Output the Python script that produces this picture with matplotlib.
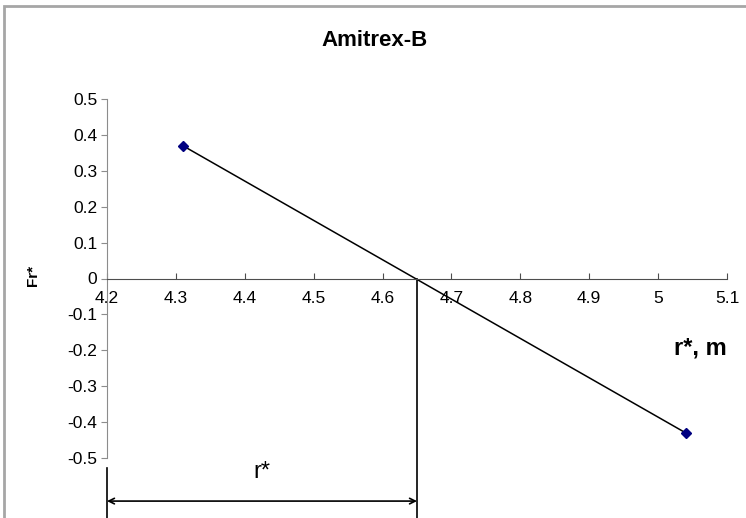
import matplotlib
matplotlib.use("Agg")
import matplotlib.pyplot as plt
from matplotlib.patches import Rectangle

plt.rcParams["font.family"] = ["Liberation Sans", "DejaVu Sans"]

# data
r_values = [4.31, 5.04]
fr_values = [0.37, -0.43]
r_star = 4.65
x_ticks = [4.2, 4.3, 4.4, 4.5, 4.6, 4.7, 4.8, 4.9, 5.0, 5.1]
x_tick_labels = ["4.2", "4.3", "4.4", "4.5", "4.6", "4.7", "4.8", "4.9", "5", "5.1"]
y_ticks = [0.5, 0.4, 0.3, 0.2, 0.1, 0.0, -0.1, -0.2, -0.3, -0.4, -0.5]
y_tick_labels = ["0.5", "0.4", "0.3", "0.2", "0.1", "0", "-0.1", "-0.2", "-0.3", "-0.4", "-0.5"]

W, H = 746, 518
fig = plt.figure(figsize=(W / 100, H / 100), dpi=100)
ax = fig.add_axes([107 / W, (H - 458) / H, 620 / W, 359 / H])

# outer chart frame (Excel style)
fig.patches.append(Rectangle((4 / W, -0.1), 1.2, (H - 6) / H + 0.1, transform=fig.transFigure,
                             fill=False, edgecolor="#a6a6a6", lw=2))

ax.plot(r_values, fr_values, color="black", lw=1.1, marker="D", markersize=5.5,
        markerfacecolor="#000080", markeredgecolor="#000080")

ax.set_xlim(4.2, 5.1)
ax.set_ylim(-0.5, 0.5)
ax.set_xticks(x_ticks)
ax.set_xticklabels(x_tick_labels)
ax.set_yticks(y_ticks)
ax.set_yticklabels(y_tick_labels)

for s in ["top", "right"]:
    ax.spines[s].set_visible(False)
ax.spines["left"].set_color("#8c8c8c")
ax.spines["bottom"].set_position(("data", 0))
ax.spines["bottom"].set_color("#4d4d4d")
ax.tick_params(axis="y", direction="out", length=4, colors="#8c8c8c", labelcolor="black",
               labelsize=12.5, pad=3)
ax.tick_params(axis="x", direction="in", length=4, colors="#4d4d4d", labelcolor="black",
               labelsize=12.5, pad=9)

fig.text(375 / W, 1 - 40 / H, "Amitrex-B", fontsize=16, fontweight="bold", ha="center", va="center")
fig.text(33 / W, 1 - 275 / H, "Fr*", rotation=90, fontsize=11, fontweight="bold",
         ha="center", va="center")
fig.text(700 / W, 1 - 348 / H, "r*, m", fontsize=17, fontweight="bold", ha="center", va="center")

# r* construction lines below the axis
y_bottom = -0.5 - (H - 458) / 359
ax.plot([r_star, r_star], [0, y_bottom], color="black", lw=1.2, clip_on=False)
ax.plot([4.2, 4.2], [-0.528, y_bottom], color="black", lw=1.2, clip_on=False)
ax.annotate("", xy=(4.2, -0.62), xytext=(r_star, -0.62), annotation_clip=False,
            arrowprops=dict(arrowstyle="<->", color="black", lw=1.2, shrinkA=0, shrinkB=0))
ax.text((4.2 + r_star) / 2, -0.54, "r*", fontsize=17, ha="center", va="center")

fig.savefig("out.png", dpi=100)
